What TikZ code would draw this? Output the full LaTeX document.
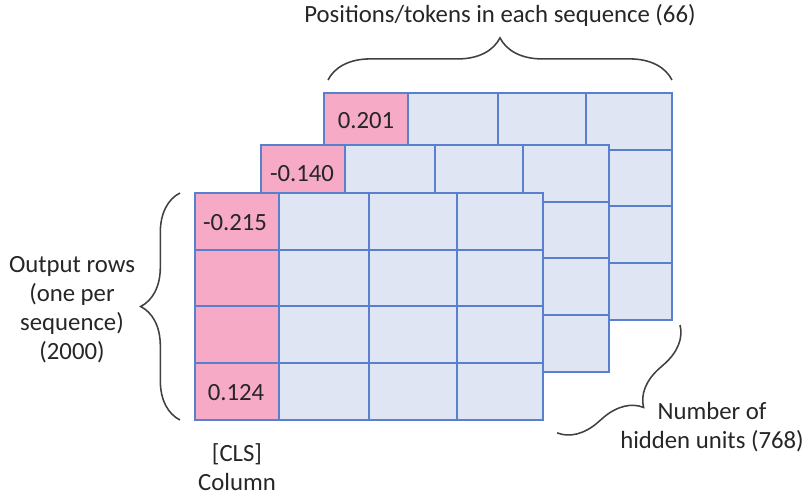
\documentclass[tikz,border=0pt]{standalone}
\usepackage{fontspec}
\setmainfont{Carlito}
\usetikzlibrary{decorations.pathreplacing}
\definecolor{clspink}{RGB}{247,170,197}
\definecolor{cellblue}{RGB}{223,229,242}
\definecolor{gridblue}{RGB}{88,128,204}
\definecolor{bracegray}{RGB}{64,64,64}

\begin{document}
\begin{tikzpicture}[x=0.025cm, y=-0.025cm,
    every node/.style={font=\fontsize{17.6}{20.6}\selectfont, text=black!85},
    gridline/.style={gridblue, line width=1pt},
    bracket/.style={decorate, bracegray, line width=1.1pt}]
\useasboundingbox (0,0) rectangle (808,496);

% Grids, back to front
\foreach \gx/\gy in {324/93, 261/145, 195/193} {
  \begin{scope}[shift={(\gx,\gy)}]
    \fill[cellblue] (0,0) rectangle (348,227);
    \fill[clspink] (0,0) rectangle (84,227);
    \foreach \cx in {84,174,262} \draw[gridline] (\cx,0) -- (\cx,227);
    \foreach \ry in {57,113,170} \draw[gridline] (0,\ry) -- (348,\ry);
    \draw[gridline] (0,0) rectangle (348,227);
  \end{scope}
}

% Values in the [CLS] cells
\node (back) at (366,121) {0.201};
\node (mid) at (302,174) {-0.140};
\node (first) at (235,223) {-0.215};
\node (last) at (236,393) {0.124};

% Labels
\node (positions) at (500,15) {Positions/tokens in each sequence (66)};
\node[align=center] (rows) at (72,310) {Output rows\\(one per\\sequence)\\(2000)};
\node[align=center] (cls) at (237,467) {[CLS]\\Column};
\node[align=center] (hidden) at (712,427) {Number of\\hidden units (768)};

% Braces
\coordinate (topL) at (328,80);
\coordinate (topR) at (672,80);
\coordinate (rowsB) at (180,420);
\coordinate (rowsT) at (180,193);
\coordinate (depthT) at (680,325);
\coordinate (depthB) at (557,433);
\draw[bracket, decoration={brace, amplitude=30pt}] (topL) -- (topR);
\draw[bracket, decoration={brace, amplitude=28pt}] (rowsB) -- (rowsT);
\draw[bracket, decoration={brace, amplitude=27pt}] (depthT) -- (depthB);

\end{tikzpicture}
\end{document}
